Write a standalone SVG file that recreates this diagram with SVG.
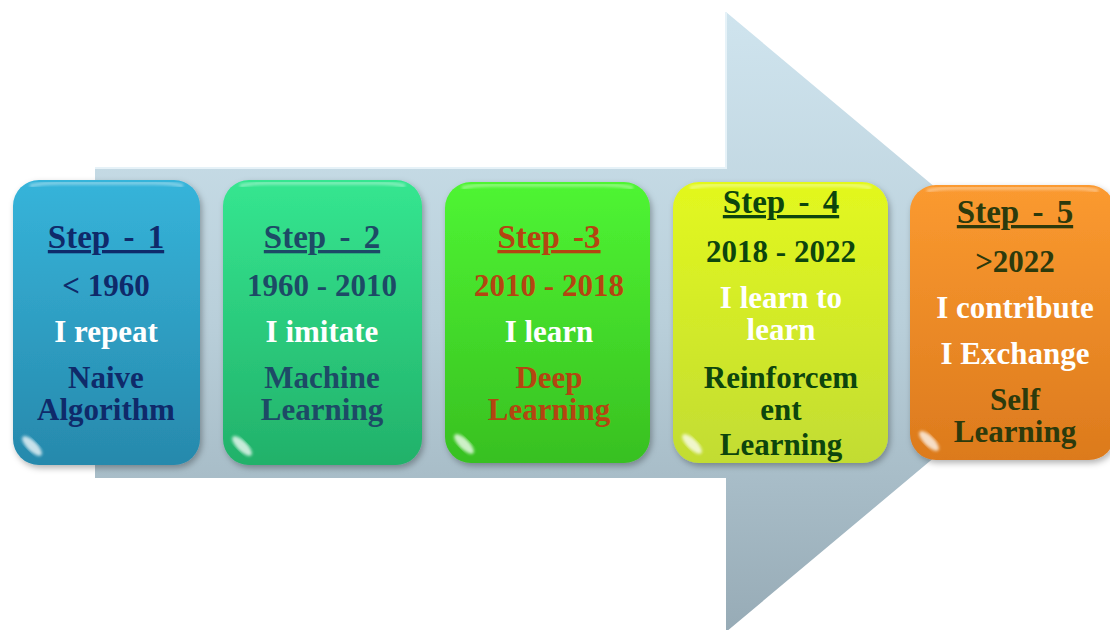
<svg xmlns="http://www.w3.org/2000/svg" width="1110" height="630" viewBox="0 0 1110 630">
<defs>
<linearGradient id="arrowG" x1="0" y1="0" x2="0" y2="1">
<stop offset="0" stop-color="#cfe4ee"/><stop offset="0.5" stop-color="#b9cfda"/><stop offset="1" stop-color="#97abb6"/>
</linearGradient>
<linearGradient id="g1" x1="0" y1="0" x2="0" y2="1"><stop offset="0" stop-color="#36b4da"/><stop offset="1" stop-color="#2789ac"/></linearGradient>
<linearGradient id="g2" x1="0" y1="0" x2="0" y2="1"><stop offset="0" stop-color="#35e690"/><stop offset="1" stop-color="#22b16a"/></linearGradient>
<linearGradient id="g3" x1="0" y1="0" x2="0" y2="1"><stop offset="0" stop-color="#4ff533"/><stop offset="1" stop-color="#38c021"/></linearGradient>
<linearGradient id="g4" x1="0" y1="0" x2="0" y2="1"><stop offset="0" stop-color="#e3f81e"/><stop offset="1" stop-color="#c2dc33"/></linearGradient>
<linearGradient id="g5" x1="0" y1="0" x2="0" y2="1"><stop offset="0" stop-color="#fb9a30"/><stop offset="1" stop-color="#dc7a1d"/></linearGradient>
<filter id="sh" x="-10%" y="-10%" width="130%" height="130%"><feDropShadow dx="2" dy="3" stdDeviation="3" flood-color="#000" flood-opacity="0.3"/></filter>
<filter id="blur"><feGaussianBlur stdDeviation="1.5"/></filter>
</defs>
<style>
text{font-family:"Liberation Serif","Times New Roman",serif;font-weight:bold;text-anchor:middle;font-size:31px}
.h{font-size:33px;text-decoration:underline;word-spacing:5px}
.w{fill:#ffffff}
.c1{fill:#0f2a6a}.c2{fill:#1d4a66}.c3{fill:#b44511}.c4{fill:#0d450d}.c5{fill:#2c3a0c}
.glare{fill:#ffffff;opacity:0.75;filter:url(#blur)}
.hl{fill:none;stroke:#ffffff;stroke-opacity:0.45;stroke-width:3;filter:url(#blur)}
</style>
<g id="arrow">
<polygon points="95,168 726,168 726,12 1096,322 726,632 726,478 95,478" fill="url(#arrowG)"/>
<polyline points="95,168 726,168 726,12" fill="none" stroke="#e6f2f8" stroke-width="2"/>
</g>
<g id="connectors"></g>
<g id="step1">
<rect x="13" y="180" width="187" height="285" rx="26" fill="url(#g1)" filter="url(#sh)"/>
<path d="M30,186 Q40,183 60,183 L153,183 Q173,183 183,186" class="hl"/>
<ellipse cx="32" cy="446" rx="13" ry="5" transform="rotate(45 32 446)" class="glare"/>
<text x="106" y="248" class="h c1">Step - 1</text>
<text x="106" y="296" class="c1">&lt; 1960</text>
<text x="106" y="342" class="w">I repeat</text>
<text x="106" y="388" class="c1">Naive</text>
<text x="106" y="420" class="c1">Algorithm</text>
</g>
<g id="step2">
<rect x="223" y="180" width="199" height="285" rx="26" fill="url(#g2)" filter="url(#sh)"/>
<path d="M240,186 Q250,183 270,183 L375,183 Q395,183 405,186" class="hl"/>
<ellipse cx="242" cy="446" rx="13" ry="5" transform="rotate(45 242 446)" class="glare"/>
<text x="322" y="248" class="h c2">Step - 2</text>
<text x="322" y="296" class="c2">1960 - 2010</text>
<text x="322" y="342" class="w">I imitate</text>
<text x="322" y="388" class="c2">Machine</text>
<text x="322" y="420" class="c2">Learning</text>
</g>
<g id="step3">
<rect x="445" y="182" width="205" height="281" rx="26" fill="url(#g3)" filter="url(#sh)"/>
<path d="M462,188 Q472,185 492,185 L603,185 Q623,185 633,188" class="hl"/>
<ellipse cx="464" cy="444" rx="13" ry="5" transform="rotate(45 464 444)" class="glare"/>
<text x="549" y="248" class="h c3">Step -3</text>
<text x="549" y="296" class="c3">2010 - 2018</text>
<text x="549" y="342" class="w">I learn</text>
<text x="549" y="388" class="c3">Deep</text>
<text x="549" y="420" class="c3">Learning</text>
</g>
<g id="step4">
<rect x="673" y="182" width="215" height="281" rx="26" fill="url(#g4)" filter="url(#sh)"/>
<path d="M690,188 Q700,185 720,185 L841,185 Q861,185 871,188" class="hl"/>
<ellipse cx="692" cy="444" rx="13" ry="5" transform="rotate(45 692 444)" class="glare"/>
<text x="781" y="213" class="h c4">Step - 4</text>
<text x="781" y="262" class="c4">2018 - 2022</text>
<text x="781" y="308" class="w">I learn  to</text>
<text x="781" y="340" class="w">learn</text>
<text x="781" y="388" class="c4">Reinforcem</text>
<text x="781" y="420" class="c4">ent</text>
<text x="781" y="455" class="c4">Learning</text>
</g>
<g id="step5">
<rect x="910" y="185" width="205" height="275" rx="26" fill="url(#g5)" filter="url(#sh)"/>
<path d="M927,191 Q937,188 957,188 L1068,188 Q1088,188 1098,191" class="hl"/>
<ellipse cx="929" cy="441" rx="13" ry="5" transform="rotate(45 929 441)" class="glare"/>
<text x="1015" y="223" class="h c5">Step - 5</text>
<text x="1015" y="272" class="c5">&gt;2022</text>
<text x="1015" y="318" class="w">I contribute</text>
<text x="1015" y="364" class="w">I Exchange</text>
<text x="1015" y="410" class="c5">Self</text>
<text x="1015" y="442" class="c5">Learning</text>
</g>
</svg>
